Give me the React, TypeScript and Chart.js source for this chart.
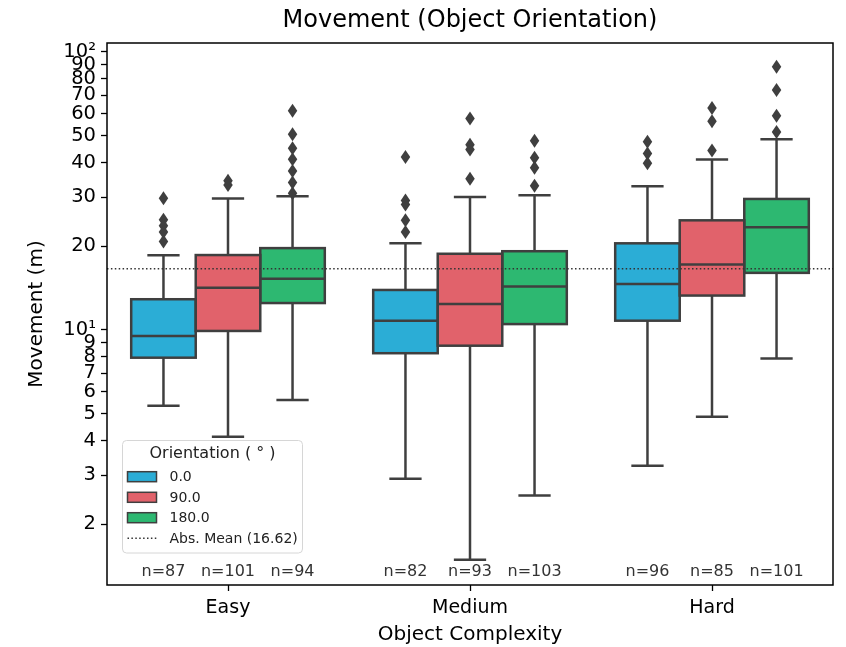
import { useEffect, useRef } from 'react';
import { Chart, registerables } from 'chart.js';

Chart.register(...registerables);

// ---------------- data ----------------
const categories = ['Easy', 'Medium', 'Hard'];
const seriesNames = ['0.0', '90.0', '180.0'];
const seriesColors = ['#2BADD6', '#E1626B', '#2DB871'];

// [series][category]
const q1Values = [
  [7.95, 8.25, 10.8],
  [9.92, 8.78, 13.3],
  [12.5, 10.5, 16.05],
];
const medianValues = [
  [9.52, 10.8, 14.65],
  [14.2, 12.4, 17.2],
  [15.3, 14.35, 23.4],
];
const q3Values = [
  [12.9, 13.93, 20.5],
  [18.6, 18.8, 24.8],
  [19.7, 19.2, 29.6],
];
const whiskerLowValues = [
  [5.34, 2.92, 3.25],
  [4.13, 1.49, 4.87],
  [5.6, 2.54, 7.89],
];
const whiskerHighValues = [
  [18.56, 20.5, 32.9],
  [29.7, 30.1, 41.0],
  [30.3, 30.5, 48.5],
];
const outlierValues = [
  [
    [29.8, 24.9, 23.7, 22.5, 20.8],
    [41.9, 29.2, 28.3, 24.8, 22.5],
    [47.5, 43.1, 39.8],
  ],
  [
    [34.4, 33.2],
    [57.6, 46.4, 44.6, 35.0],
    [62.9, 56.3, 44.2],
  ],
  [
    [61.5, 50.6, 45.0, 41.1, 37.3, 33.9, 31.0],
    [47.9, 41.6, 38.3, 33.0],
    [88.5, 73.0, 59.0, 51.5],
  ],
];
const countValues = [
  [87, 82, 96],
  [101, 93, 85],
  [94, 103, 101],
];
const absMean = 16.62;
const yTickValues = [2, 3, 4, 5, 6, 7, 8, 9, 10, 20, 30, 40, 50, 60, 70, 80, 90, 100];
const yMin = 1.21;
const yMax = 107.7;

const FONT = 'DejaVu Sans';
const EDGE = '#3f3f3f';

function thinDiamond(ctx: CanvasRenderingContext2D, x: number, y: number, w: number, h: number) {
  ctx.beginPath();
  ctx.moveTo(x, y - h / 2);
  ctx.lineTo(x + w / 2, y);
  ctx.lineTo(x, y + h / 2);
  ctx.lineTo(x - w / 2, y);
  ctx.closePath();
  ctx.fill();
}

function seg(ctx: CanvasRenderingContext2D, x1: number, y1: number, x2: number, y2: number) {
  ctx.beginPath();
  ctx.moveTo(x1, y1);
  ctx.lineTo(x2, y2);
  ctx.stroke();
}

const boxPlugin = {
  id: 'boxExtras',
  afterDatasetsDraw(chart: any) {
    const ctx: CanvasRenderingContext2D = chart.ctx;
    const ys = chart.scales.y;
    const area = chart.chartArea;
    ctx.save();
    ctx.strokeStyle = EDGE;
    ctx.fillStyle = EDGE;
    ctx.lineWidth = 2.5;
    ctx.lineCap = 'butt';
    seriesNames.forEach((_, s) => {
      const meta = chart.getDatasetMeta(s);
      meta.data.forEach((bar: any, c: number) => {
        const { x, width } = bar.getProps(['x', 'width'], true);
        const left = x - width / 2;
        const right = x + width / 2;
        const yq1 = ys.getPixelForValue(q1Values[s][c]);
        const yq3 = ys.getPixelForValue(q3Values[s][c]);
        const ymed = ys.getPixelForValue(medianValues[s][c]);
        const ylo = ys.getPixelForValue(whiskerLowValues[s][c]);
        const yhi = ys.getPixelForValue(whiskerHighValues[s][c]);
        ctx.setLineDash([]);
        ctx.strokeStyle = EDGE;
        ctx.lineWidth = 2.5;
        seg(ctx, x, yq3, x, yhi);
        seg(ctx, x, yq1, x, ylo);
        seg(ctx, x - width / 4, yhi, x + width / 4, yhi);
        seg(ctx, x - width / 4, ylo, x + width / 4, ylo);
        ctx.strokeRect(left, yq3, width, yq1 - yq3);
        seg(ctx, left, ymed, right, ymed);
        outlierValues[s][c].forEach((v) => {
          thinDiamond(ctx, x, ys.getPixelForValue(v), 9.5, 14);
        });
        ctx.fillStyle = '#333';
        ctx.font = `16px "${FONT}"`;
        ctx.textAlign = 'center';
        ctx.textBaseline = 'middle';
        ctx.fillText(`n=${countValues[s][c]}`, x, area.bottom - 13);
        ctx.fillStyle = EDGE;
      });
    });

    // mean line
    const ym = ys.getPixelForValue(absMean);
    ctx.strokeStyle = '#333';
    ctx.lineWidth = 1.5;
    ctx.setLineDash([1.5, 2.4]);
    seg(ctx, area.left, ym, area.right, ym);
    ctx.setLineDash([]);

    // legend
    const lx = area.left + 15.5;
    const ly = area.bottom - 144.5;
    const lw = 180;
    const lh = 112.5;
    const r = 4;
    ctx.beginPath();
    ctx.moveTo(lx + r, ly);
    ctx.lineTo(lx + lw - r, ly);
    ctx.quadraticCurveTo(lx + lw, ly, lx + lw, ly + r);
    ctx.lineTo(lx + lw, ly + lh - r);
    ctx.quadraticCurveTo(lx + lw, ly + lh, lx + lw - r, ly + lh);
    ctx.lineTo(lx + r, ly + lh);
    ctx.quadraticCurveTo(lx, ly + lh, lx, ly + lh - r);
    ctx.lineTo(lx, ly + r);
    ctx.quadraticCurveTo(lx, ly, lx + r, ly);
    ctx.closePath();
    ctx.fillStyle = 'rgba(255,255,255,0.85)';
    ctx.fill();
    ctx.strokeStyle = '#d6d6d6';
    ctx.lineWidth = 1;
    ctx.stroke();

    ctx.fillStyle = '#222';
    ctx.font = `16px "${FONT}"`;
    ctx.textAlign = 'center';
    ctx.textBaseline = 'middle';
    ctx.fillText('Orientation ( \u00B0 )', lx + lw / 2, ly + 13);

    ctx.textAlign = 'left';
    ctx.font = `14px "${FONT}"`;
    const rowY = [ly + 36.2, ly + 56.8, ly + 77.2, ly + 97.8];
    seriesNames.forEach((name, s) => {
      ctx.fillStyle = seriesColors[s];
      ctx.fillRect(lx + 5, rowY[s] - 5, 29, 10);
      ctx.strokeStyle = EDGE;
      ctx.lineWidth = 1.5;
      ctx.strokeRect(lx + 5, rowY[s] - 5, 29, 10);
      ctx.fillStyle = '#222';
      ctx.fillText(name, lx + 47, rowY[s] + 1);
    });
    ctx.strokeStyle = '#333';
    ctx.lineWidth = 1.5;
    ctx.setLineDash([1.5, 2.4]);
    seg(ctx, lx + 5, rowY[3], lx + 34, rowY[3]);
    ctx.setLineDash([]);
    ctx.fillStyle = '#222';
    ctx.fillText(`Abs. Mean (${absMean})`, lx + 47, rowY[3] + 1);

    // frame
    ctx.strokeStyle = '#000';
    ctx.lineWidth = 1.5;
    ctx.strokeRect(area.left, area.top, area.right - area.left, area.bottom - area.top);
    ctx.restore();
  },
};

export default function App() {
  const canvasRef = useRef<HTMLCanvasElement | null>(null);

  useEffect(() => {
    document.body.style.margin = '0';
    const canvas = canvasRef.current;
    if (!canvas) return;
    Chart.defaults.font.family = FONT;
    const chart = new Chart(canvas, {
      type: 'bar',
      data: {
        labels: categories,
        datasets: seriesNames.map((name, s) => ({
          label: name,
          data: categories.map((_, c) => [q1Values[s][c], q3Values[s][c]]),
          backgroundColor: seriesColors[s],
          borderWidth: 0,
          categoryPercentage: 0.8,
          barPercentage: 1.0,
        })) as any,
      },
      options: {
        responsive: false,
        animation: false,
        layout: { padding: { left: 0, right: 13, top: 0, bottom: 0 } },
        plugins: {
          legend: { display: false },
          tooltip: { enabled: false },
          title: {
            display: true,
            text: 'Movement (Object Orientation)',
            color: '#000',
            fullSize: false,
            font: { family: FONT, size: 24, weight: 'normal', lineHeight: 1.2 },
            padding: { top: 6.6, bottom: 7.6 },
          },
        },
        scales: {
          x: {
            type: 'category',
            offset: true,
            border: { display: false },
            grid: {
              display: true,
              drawOnChartArea: false,
              drawTicks: true,
              tickLength: 6,
              tickColor: '#000',
              tickWidth: 1.3,
              offset: false,
            },
            ticks: {
              color: '#000',
              font: { family: FONT, size: 19, lineHeight: 1.2 },
              padding: 5.6,
            },
            title: {
              display: true,
              text: 'Object Complexity',
              color: '#000',
              font: { family: FONT, size: 20, lineHeight: 1.2 },
              padding: { top: 0, bottom: 0 },
            },
            afterFit: (scale: any) => {
              scale.height = 62;
              scale.paddingLeft = 0;
              scale.paddingRight = 0;
            },
          },
          y: {
            type: 'logarithmic',
            min: yMin,
            max: yMax,
            border: { display: false },
            grid: {
              display: true,
              drawOnChartArea: false,
              drawTicks: true,
              tickLength: 6,
              tickColor: '#000',
              tickWidth: 1.3,
            },
            afterBuildTicks: (scale: any) => {
              scale.ticks = yTickValues.map((v) => ({ value: v, major: v === 10 || v === 100 }));
            },
            ticks: {
              autoSkip: false,
              color: '#000',
              padding: 5,
              font: { family: FONT, size: 19.5, lineHeight: 1.2 },
              callback: (value: any) => {
                const v = Number(value);
                if (v === 10) return '10\u00B9';
                if (v === 100) return '10\u00B2';
                return String(v);
              },
            },
            title: {
              display: true,
              text: 'Movement (m)',
              color: '#000',
              font: { family: FONT, size: 20, lineHeight: 1.2 },
              padding: { top: 25, bottom: 0 },
            },
            afterFit: (scale: any) => {
              scale.width = 107;
              scale.paddingTop = 0;
              scale.paddingBottom = 0;
            },
          },
        },
      } as any,
      plugins: [boxPlugin],
    });
    return () => chart.destroy();
  }, []);

  return (
    <div style={{ width: 846, height: 647 }}>
      <canvas ref={canvasRef} width={846} height={647} style={{ display: 'block' }} />
    </div>
  );
}
